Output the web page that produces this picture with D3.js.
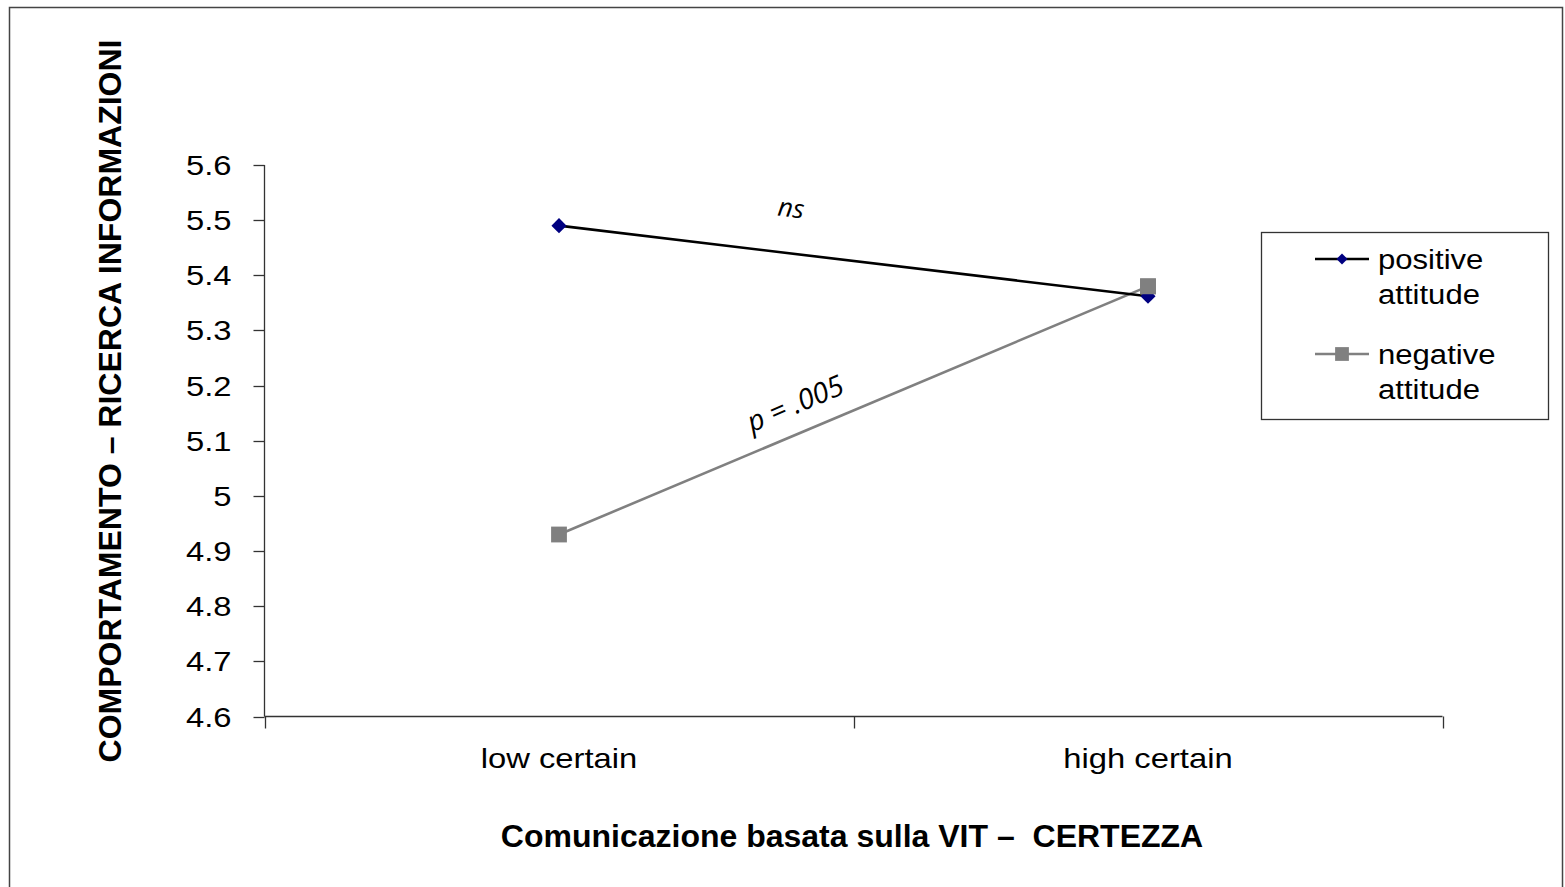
<!DOCTYPE html>
<html><head><meta charset="utf-8">
<script src="https://cdn.jsdelivr.net/npm/d3@7"></script>
<style>body{margin:0;background:#fff;}svg{display:block;}</style>
</head><body>
<svg id="c" width="1565" height="887"></svg>
<script>
const categories = ["low certain", "high certain"];
const seriesNames = ["positive attitude", "negative attitude"];
const positive = [5.49, 5.362];
const negative = [4.93, 5.38];
const yTicks = [4.6, 4.7, 4.8, 4.9, 5.0, 5.1, 5.2, 5.3, 5.4, 5.5, 5.6];
const yTickLabels = ["4.6","4.7","4.8","4.9","5","5.1","5.2","5.3","5.4","5.5","5.6"];
const yTitle = "COMPORTAMENTO – RICERCA INFORMAZIONI";
const xTitle = "Comunicazione basata sulla VIT –  CERTEZZA";
const annotations = [{text:"ns", series:0}, {text:"p = .005", series:1}];

const svg = d3.select("#c");
const F = "Liberation Sans, Arial, sans-serif";
const FS = 28;
const SX = 1.17;

// outer frame
svg.append("rect").attr("x",9.5).attr("y",7.5).attr("width",1553).attr("height",900)
  .attr("fill","none").attr("stroke","#444").attr("stroke-width",1.5);

const x = d3.scaleBand().domain(categories).range([264.5, 1442.5]).padding(0);
const y = d3.scaleLinear().domain([4.6, 5.6]).range([716.5, 165]);

// y axis
const ya = svg.append("g").attr("transform","translate(264.5,0)");
ya.append("line").attr("y1",y(5.6)).attr("y2",y(4.6)).attr("stroke","#333").attr("stroke-width",1.3);
yTicks.forEach((v,i)=>{
  ya.append("line").attr("x1",-11).attr("x2",0).attr("y1",Math.round(y(v))+0.5).attr("y2",Math.round(y(v))+0.5)
    .attr("stroke","#333").attr("stroke-width",1.3);
  ya.append("text").attr("transform",`translate(-33,${y(v)+10}) scale(${SX},1)`)
    .attr("text-anchor","end").attr("font-family",F).attr("font-size",FS).attr("fill","#000")
    .text(yTickLabels[i]);
});

// x axis
const xa = svg.append("g").attr("transform","translate(0,716.5)");
xa.append("line").attr("x1",x.range()[0]).attr("x2",x.range()[1]).attr("stroke","#333").attr("stroke-width",1.3);
const edges = categories.map(c=>x(c)).concat([x(categories[categories.length-1])+x.bandwidth()]);
edges.forEach(e=>{
  xa.append("line").attr("x1",Math.round(e)+0.5).attr("x2",Math.round(e)+0.5).attr("y1",0).attr("y2",12)
    .attr("stroke","#333").attr("stroke-width",1.3);
});
categories.forEach(c=>{
  xa.append("text").attr("transform",`translate(${x(c)+x.bandwidth()/2},${51}) scale(${SX},1)`)
    .attr("text-anchor","middle").attr("font-family",F).attr("font-size",FS).attr("fill","#000").text(c);
});

// titles
svg.append("text").attr("x",852).attr("y",847).attr("text-anchor","middle")
  .attr("font-family",F).attr("font-weight","bold").attr("font-size",32).attr("fill","#000")
  .attr("xml:space","preserve").text(xTitle);
svg.append("text").attr("transform","translate(121,401) rotate(-90)").attr("text-anchor","middle")
  .attr("font-family",F).attr("font-weight","bold").attr("font-size",32).attr("fill","#000").text(yTitle);

// lines
const cx = c => x(c) + x.bandwidth()/2;
const line = d3.line().x((d,i)=>cx(categories[i])).y(d=>y(d));
svg.append("path").datum(negative).attr("d",line).attr("fill","none").attr("stroke","#808080").attr("stroke-width",2.6);
svg.append("path").datum(positive).attr("d",line).attr("fill","none").attr("stroke","#000").attr("stroke-width",2.6);

const diamond = d3.symbol().type(d3.symbolSquare).size(115);
const square = d3.symbol().type(d3.symbolSquare).size(250);
negative.forEach((v,i)=>{
  svg.append("path").attr("d",square).attr("transform",`translate(${cx(categories[i])},${y(v)})`).attr("fill","#808080");
});
positive.forEach((v,i)=>{
  svg.append("path").attr("d",diamond).attr("transform",`translate(${cx(categories[i])},${y(v)}) rotate(45)`).attr("fill","#000080");
});
// the high negative marker sits over the positive one, as in the reference
svg.append("path").attr("d",square).attr("transform",`translate(${cx(categories[1])},${y(negative[1])})`).attr("fill","#808080");

// annotations along lines
const series = [positive, negative];
const annPos = [{t:0.385, dy:-36, fs:26}, {t:0.42, dy:-19, fs:28.5}];
annotations.forEach((a,k)=>{
  const s = series[a.series];
  const x0 = cx(categories[0]), x1 = cx(categories[1]);
  const y0 = y(s[0]), y1 = y(s[1]);
  const t = annPos[k].t;
  const px = x0 + (x1-x0)*t, py = y0 + (y1-y0)*t;
  const ang = Math.atan2(y1-y0, x1-x0)*180/Math.PI;
  svg.append("text").attr("transform",`translate(${px},${py}) rotate(${ang}) translate(0,${annPos[k].dy})`)
    .attr("text-anchor","middle").attr("font-family","Open Sans, DejaVu Sans, sans-serif").attr("font-style","italic")
    .attr("font-size",annPos[k].fs).attr("fill","#000").text(a.text);
});

// legend
const lg = svg.append("g");
lg.append("rect").attr("x",1261.5).attr("y",232.5).attr("width",287).attr("height",187)
  .attr("fill","#fff").attr("stroke","#333").attr("stroke-width",1.3);
const legendItems = [
  {lines:["positive","attitude"], color:"#000", mcolor:"#000080", ly:259},
  {lines:["negative","attitude"], color:"#808080", mcolor:"#808080", ly:354}
];
legendItems.forEach((it,i)=>{
  lg.append("line").attr("x1",1315).attr("x2",1369).attr("y1",it.ly).attr("y2",it.ly).attr("stroke",it.color).attr("stroke-width",2.5);
  lg.append("path").attr("d", d3.symbol().type(d3.symbolSquare).size(i===0 ? 60 : 190))
    .attr("transform",`translate(1342,${it.ly})${i===0 ? " rotate(45)" : ""}`).attr("fill",it.mcolor);
  it.lines.forEach((l,j)=>{
    lg.append("text").attr("transform",`translate(1378,${it.ly+10+j*35}) scale(1.11,1)`)
      .attr("font-family",F).attr("font-size",FS).attr("fill","#000").text(l);
  });
});
</script>
</body></html>
